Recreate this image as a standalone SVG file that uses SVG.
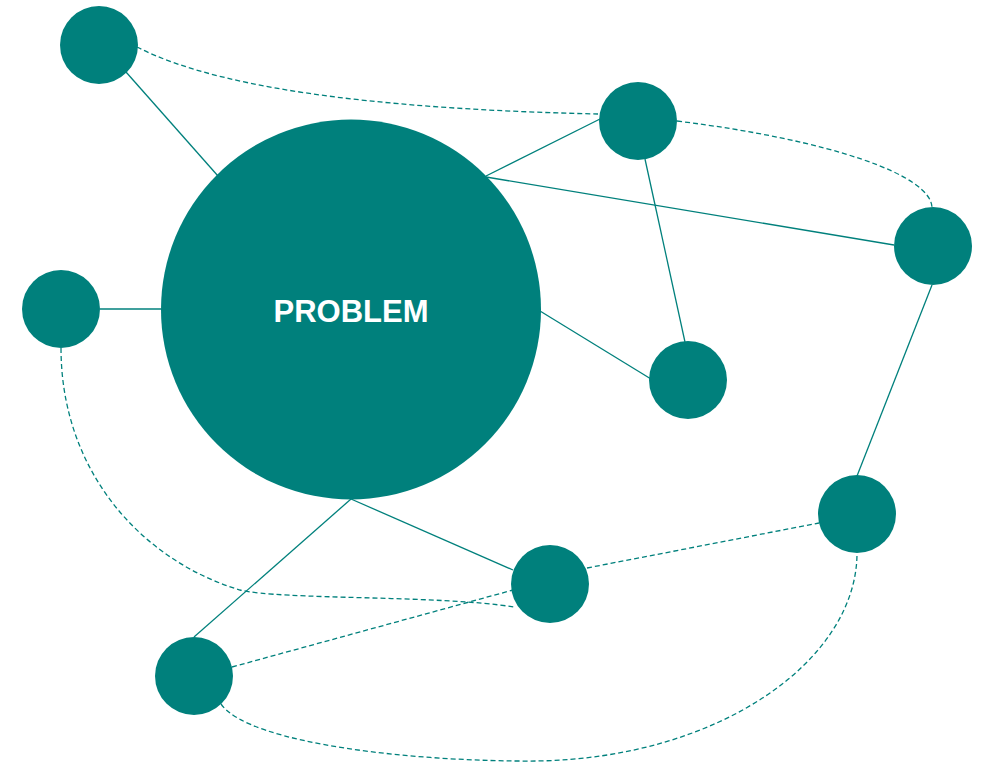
<svg xmlns="http://www.w3.org/2000/svg" width="987" height="766" viewBox="0 0 987 766">
<style>
.n{fill:#00807c}
.s{fill:none;stroke:#00807c;stroke-width:1.3}
.d{fill:none;stroke:#00807c;stroke-width:1.3;stroke-dasharray:5 3}
.t{font-family:"Liberation Sans",Arial,sans-serif;font-weight:bold;font-size:31px;fill:#ffffff;text-anchor:middle}
</style>
<rect width="987" height="766" fill="#ffffff"/>
<g id="connectors">
<line class="s" x1="126" y1="72" x2="218" y2="176"/>
<line class="s" x1="486" y1="176" x2="600" y2="119"/>
<line class="s" x1="486" y1="177" x2="894" y2="245"/>
<line class="s" x1="645" y1="159" x2="685" y2="342"/>
<line class="s" x1="540" y1="311" x2="651" y2="379"/>
<line class="s" x1="100" y1="309" x2="161" y2="309"/>
<line class="s" x1="932" y1="285" x2="857" y2="476"/>
<line class="s" x1="351" y1="499" x2="513" y2="570"/>
<line class="s" x1="351" y1="499" x2="194" y2="637"/>
<path class="d" d="M137,47 C230,95 420,110 598,114"/>
<path class="d" d="M677,121 C830,140 932,175 932,208"/>
<path class="d" d="M61,348 C61,470 140,560 240,590 C280,600 440,595 514,607"/>
<line class="d" x1="232" y1="667" x2="513" y2="590"/>
<line class="d" x1="587" y1="568" x2="819" y2="523"/>
<path class="d" d="M221,704 C250,745 420,762 537,761 C720,758 857,660 857,553"/>
</g>
<g id="problem"><circle class="n" cx="351" cy="309.5" r="190"/><text class="t" x="351" y="322">PROBLEM</text></g>
<g id="n1"><circle class="n" cx="99" cy="45" r="39"/></g>
<g id="n2"><circle class="n" cx="638" cy="121" r="39"/></g>
<g id="n3"><circle class="n" cx="933" cy="246" r="39"/></g>
<g id="n4"><circle class="n" cx="61" cy="309" r="39"/></g>
<g id="n5"><circle class="n" cx="688" cy="380" r="39"/></g>
<g id="n6"><circle class="n" cx="857" cy="514" r="39"/></g>
<g id="n7"><circle class="n" cx="550" cy="584" r="39"/></g>
<g id="n8"><circle class="n" cx="194" cy="676" r="39"/></g>
</svg>
